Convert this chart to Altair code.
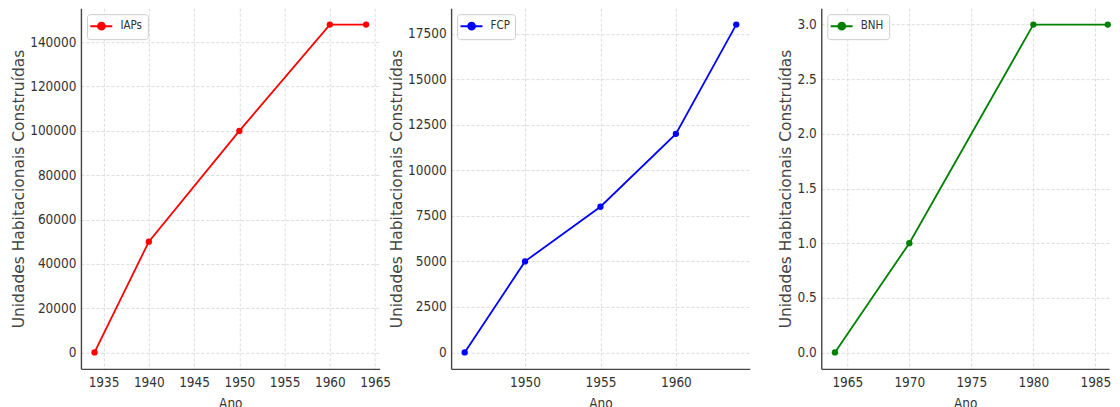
import altair as alt
import pandas as pd

# ---- data ----
iaps_years = [1934, 1940, 1950, 1960, 1964]
iaps_units = [0, 50000, 100000, 148000, 148000]

fcp_years = [1946, 1950, 1955, 1960, 1964]
fcp_units = [0, 5000, 8000, 12000, 18000]

bnh_years = [1964, 1970, 1980, 1986]
bnh_units = [0, 1, 3, 3]

series_names = ["IAPs", "FCP", "BNH"]
series_colors = ["#ff0000", "#0000ff", "#008000"]

# tick values
iaps_xticks = [1935, 1940, 1945, 1950, 1955, 1960, 1965]
iaps_yticks = [0, 20000, 40000, 60000, 80000, 100000, 120000, 140000]
fcp_xticks = [1950, 1955, 1960]
fcp_yticks = [0, 2500, 5000, 7500, 10000, 12500, 15000, 17500]
bnh_xticks = [1965, 1970, 1975, 1980, 1985]
bnh_yticks = [0.0, 0.5, 1.0, 1.5, 2.0, 2.5, 3.0]

# axis domains (data range plus 5% margins; last panel is cut at the picture edge)
iaps_xdom = [1932.5, 1965.5]
iaps_ydom = [-7400, 155400]
fcp_xdom = [1945.1, 1964.9]
fcp_ydom = [-900, 18900]
bnh_xdom = [1962.9, 1986.1]
bnh_ydom = [-0.15, 3.15]

COND = "DejaVu Sans Condensed, DejaVu Sans"
# legend sample: a short line with a dot in its middle
LEG_SYMBOL = "M-1.43,0L2.23,0M0.98,0A0.56,0.56,0,1,1,-0.14,0A0.56,0.56,0,1,1,0.98,0Z"
YTITLE = "Unidades Habitacionais Construídas"


def panel(name, color, years, units, xticks, yticks, xdom, ydom, yfmt, width):
    df = pd.DataFrame({"Ano": years, "Unidades": units, "Série": [name] * len(years)})
    color_enc = alt.Color(
        "Série:N",
        scale=alt.Scale(domain=[name], range=[color]),
        legend=alt.Legend(
            title=None,
            orient="top-left",
            offset=6,
            padding=5,
            cornerRadius=3,
            strokeColor="#cccccc",
            fillColor="white",
            symbolType=LEG_SYMBOL,
            symbolSize=144,
            symbolStrokeWidth=2,
            symbolFillColor=color,
            symbolStrokeColor=color,
            labelFont=COND,
            labelFontSize=11.5,
            labelColor="#333333",
            labelOffset=14.5,
        ),
    )
    x_enc = alt.X(
        "Ano:Q",
        scale=alt.Scale(domain=xdom, nice=False, zero=False),
        axis=alt.Axis(values=xticks, format="d", title="Ano", labelPadding=7,
                      titlePadding=7, titleFont=COND, titleFontSize=13.5,
                      titleColor="#333333"),
    )
    y_enc = alt.Y(
        "Unidades:Q",
        scale=alt.Scale(domain=ydom, nice=False, zero=False),
        axis=alt.Axis(values=yticks, format=yfmt, title=YTITLE, labelPadding=5,
                      titlePadding=3, titleFont="DejaVu Sans", titleFontSize=15.5,
                      titleColor="#444444"),
    )
    base = alt.Chart(df).encode(x=x_enc, y=y_enc, color=color_enc)
    line = base.mark_line(strokeWidth=1.8)
    pts = base.mark_point(filled=True, size=40, opacity=1)
    return alt.layer(line, pts).properties(width=width, height=361)


p1 = panel("IAPs", series_colors[0], iaps_years, iaps_units, iaps_xticks, iaps_yticks,
           iaps_xdom, iaps_ydom, "d", 299)
p2 = panel("FCP", series_colors[1], fcp_years, fcp_units, fcp_xticks, fcp_yticks,
           fcp_xdom, fcp_ydom, "d", 299)
p3 = panel("BNH", series_colors[2], bnh_years, bnh_units, bnh_xticks, bnh_yticks,
           bnh_xdom, bnh_ydom, ".1f", 288)

chart = (
    alt.hconcat(p1, p2, p3, spacing=71.5, bounds="flush")
    .resolve_scale(color="independent")
    .resolve_legend(color="independent")
    .properties(padding={"left": 3, "top": 0, "right": 0, "bottom": 0})
    .configure_view(strokeWidth=0)
    .configure_axis(
        domainColor="#444444",
        domainWidth=1.4,
        grid=True,
        gridColor="#d3d3d3",
        gridDash=[3, 2],
        gridWidth=0.8,
        tickSize=0,
        labelFont=COND,
        labelFontSize=13.5,
        labelColor="#333333",
        titleFontWeight="normal",
    )
)

chart.save("out.html", embed_options={"renderer": "svg", "actions": False})
